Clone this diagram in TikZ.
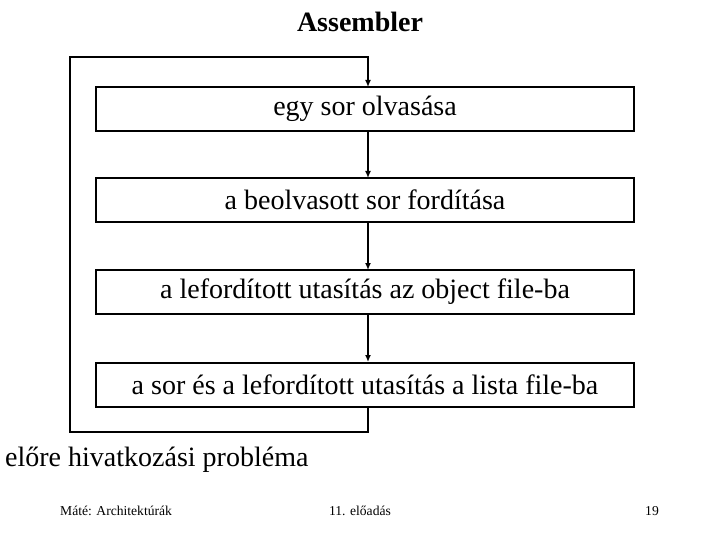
\documentclass[tikz,border=0pt]{standalone}
\usepackage{fontspec}
\usetikzlibrary{arrows.meta}
\setmainfont{Liberation Serif}
\begin{document}
\begin{tikzpicture}[x=1pt,y=-1pt,
  box/.style={draw,line width=2.2pt,minimum width=538pt,minimum height=44pt,inner sep=0pt,font=\fontsize{28}{32}\selectfont},
  arr/.style={line width=1.5pt,-{Latex[length=7pt,width=6pt]}},
  lbl/.style={inner sep=0pt},
  foot/.style={inner sep=0pt,anchor=base,font=\fontsize{13.6}{16}\selectfont}]
\useasboundingbox (0,0) rectangle (720,540);
\node[lbl,font=\bfseries\fontsize{28}{32}\selectfont] (title) at (360,22) {Assembler};
\node[box] (b1) at (365,109) {egy sor olvasása};
\node[box] (b2) at (365,200) {a beolvasott sor fordítása};
\node[box] (b3) at (365,292) {a lefordított utasítás az object file-ba};
\node[box] (b4) at (365,385) {a sor és a lefordított utasítás a lista file-ba};
\coordinate (t) at (368,87);
\coordinate (s) at (368,408);
\draw[arr] (368,131) -- (368,178);
\draw[arr] (368,222) -- (368,270);
\draw[arr] (368,314) -- (368,362);
\draw[arr] (s) -- (368,432) -- (70,432) -- (70,57) -- (368,57) -- (t);
\node[lbl,anchor=west,font=\fontsize{28}{32}\selectfont] (p) at (5,460) {előre hivatkozási probléma};
\node[foot,anchor=base west] (f1) at (60,515) {Máté: Architektúrák};
\node[foot] (f2) at (360,515) {11. előadás};
\node[foot] (f3) at (652,515) {19};
\end{tikzpicture}
\end{document}
